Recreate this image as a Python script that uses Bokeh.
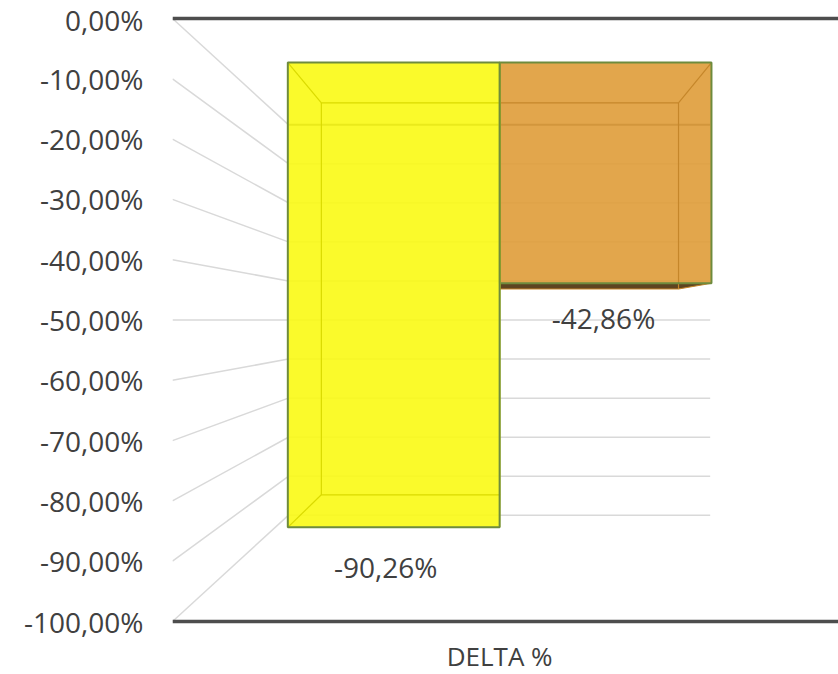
from bokeh.plotting import figure
from bokeh.models import Range1d, FixedTicker, ColumnDataSource
from bokeh.embed import file_html
from bokeh.resources import INLINE
from bokeh.core.properties import value

# ---- data ----
category = "DELTA %"
series_names = ["Serie 1", "Serie 2"]
series_values = [-90.26, -42.86]
value_labels = ["-90,26%", "-42,86%"]
tick_values = [0, -10, -20, -30, -40, -50, -60, -70, -80, -90, -100]
tick_labels = ["0,00%", "-10,00%", "-20,00%", "-30,00%", "-40,00%", "-50,00%",
               "-60,00%", "-70,00%", "-80,00%", "-90,00%", "-100,00%"]

# ---- styling / perspective geometry ----
X_END = 1.023                  # front plane spans 0..1, frame extends a little further
VX, VY = 0.5054, -50.0         # vanishing point (front-plane x units, value units)
S_WALL = 0.648                 # depth scale of back wall
S_BF, S_BB = 0.854, 0.72       # depth scale of bar front / back faces
GROUP_W = 0.762
BAR_W = GROUP_W / len(series_values)
CAT_X = 0.502
face_colors = ["#F9F914", "#DF9C38"]
edge_colors = ["#DADA00", "#C5862A"]
bottom_colors = ["#8a8a00", "#5E4420"]
label_dx = [-8, -2]
label_dy = [40, 35]
FONT = "Open Sans"
TXT = "#404040"


def proj(x, y, s):
    return VX + s * (x - VX), VY + s * (y - VY)


ymin, ymax = min(tick_values), max(tick_values)
px_per_unit = 6.03
y_end = ymax + 18 / px_per_unit
y_start = ymin - (674 - 621) / px_per_unit

p = figure(width=838, height=674, x_range=Range1d(0, X_END), y_range=Range1d(y_start, y_end),
           output_backend="svg", toolbar_location=None,
           min_border_left=172, min_border_right=0, min_border_top=0, min_border_bottom=0)
p.outline_line_color = None
p.xgrid.visible = False
p.ygrid.visible = False
p.xaxis.visible = False
p.background_fill_color = "white"
p.border_fill_color = "white"

ax = p.yaxis[0]
ax.ticker = FixedTicker(ticks=tick_values)
ax.major_label_overrides = {t: l for t, l in zip(tick_values, tick_labels)}
ax.axis_line_color = None
ax.major_tick_line_color = None
ax.minor_tick_line_color = None
ax.major_tick_out = 0
ax.major_tick_in = 0
ax.major_label_standoff = 29
ax.major_label_text_font = FONT
ax.major_label_text_font_size = "28px"
ax.major_label_text_color = TXT

# ---- walls: side diagonals and back gridlines ----
dx0, dy0, dx1, dy1 = [], [], [], []
bx0, by0, bx1, by1, bcol, bw = [], [], [], [], [], []
for t in tick_values:
    xb, yb = proj(0, t, S_WALL)
    xr, _ = proj(1, t, S_WALL)
    dx0.append(0); dy0.append(t); dx1.append(xb); dy1.append(yb)
    bx0.append(xb); by0.append(yb); bx1.append(xr); by1.append(yb)
    bcol.append("#595959" if t == ymax else "#D9D9D9")
    bw.append(2 if t == ymax else 1.5)
p.segment(dx0, dy0, dx1, dy1, line_color="#D9D9D9", line_width=1.5)
p.segment(x0=bx0, y0=by0, x1=bx1, y1=by1, line_color=bcol, line_width=bw)

# front edges (top at 0 and bottom at -100)
p.segment([0, 0], [ymax, ymin], [X_END, X_END], [ymax, ymin], line_color="#4D4D4D", line_width=3.5)

# ---- bars ----
order = list(range(len(series_values)))[::-1]  # draw right one first
for i in order:
    v = series_values[i]
    x0 = CAT_X - GROUP_W / 2 + i * BAR_W
    x1 = x0 + BAR_W
    f = [proj(x0, 0, S_BF), proj(x1, 0, S_BF), proj(x1, v, S_BF), proj(x0, v, S_BF)]
    b = [proj(x0, 0, S_BB), proj(x1, 0, S_BB), proj(x1, v, S_BB), proj(x0, v, S_BB)]
    # bottom face visible when bar end is above eye level
    if v > VY:
        p.patch([f[3][0], f[2][0], b[2][0], b[3][0]], [f[3][1], f[2][1], b[2][1], b[3][1]],
                fill_color=bottom_colors[i], line_color=None)
    # front face (translucent)
    p.patch([c[0] for c in f], [c[1] for c in f], fill_color=face_colors[i], fill_alpha=0.9,
            line_color=None)
    # back face edges and connectors
    p.patch([c[0] for c in b], [c[1] for c in b], fill_color=None, line_color=edge_colors[i],
            line_width=1.2)
    p.segment([c[0] for c in f], [c[1] for c in f], [c[0] for c in b], [c[1] for c in b],
              line_color=edge_colors[i], line_width=1.2)
    # front outline
    p.patch([c[0] for c in f], [c[1] for c in f], fill_color=None, line_color="#6E8B3D",
            line_width=2)

# ---- value labels ----
lx, ly = [], []
for i, v in enumerate(series_values):
    x0 = CAT_X - GROUP_W / 2 + i * BAR_W
    cx, cy = proj(x0 + BAR_W / 2, v, S_BF)
    lx.append(cx); ly.append(cy)
src = ColumnDataSource(dict(x=lx, y=ly, t=value_labels, dx=label_dx, dy=label_dy))
p.text("x", "y", text="t", x_offset="dx", y_offset="dy", source=src, text_align="center",
       text_baseline="middle", text_font=value(FONT), text_font_size="28px", text_color=TXT)

# ---- category label ----
cxp, _ = proj(CAT_X, ymin, S_BF)
p.text([cxp], [ymin], text=[category], y_offset=34, text_align="center",
       text_baseline="middle", text_font=value(FONT), text_font_size="26px", text_color=TXT)

open("out.html", "w").write(file_html(p, INLINE))
